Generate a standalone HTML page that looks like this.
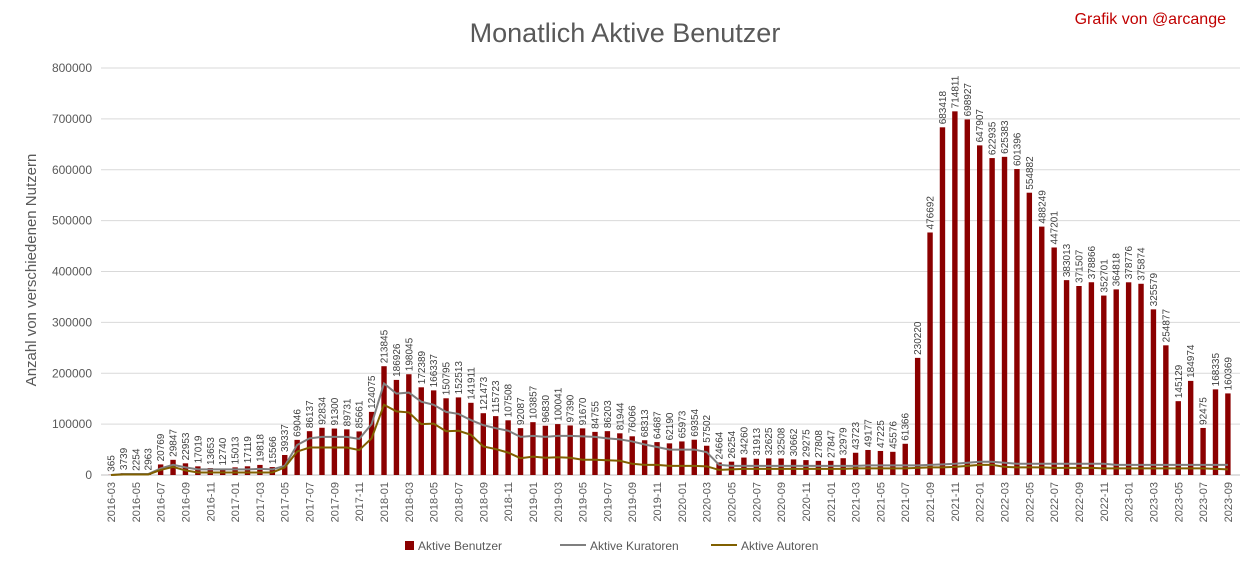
<!DOCTYPE html>
<html><head><meta charset="utf-8"><style>
body{margin:0;background:#fff;}
svg{display:block;font-family:"Liberation Sans",sans-serif;}
</style></head><body>
<svg id="s" width="1249" height="568" xmlns="http://www.w3.org/2000/svg"></svg>
<script>
const v=[365,3739,2254,2963,20769,29847,22953,17019,13653,12740,15013,17119,19818,15566,39337,69046,86137,92834,91300,89731,85661,124075,213845,186926,198045,172389,166337,150795,152513,141911,121473,115723,107508,92087,103857,96830,100041,97390,91670,84755,86203,81944,76066,68313,64687,62190,65973,69354,57502,24664,26254,34260,31913,32625,32508,30662,29275,27808,27847,32979,43723,49177,47225,45576,61366,230220,476692,683418,714811,698927,647907,622935,625383,601396,554882,488249,447201,383013,371507,378866,352701,364818,378776,375874,325579,254877,145129,184974,92475,168335,160369];
const kur=[0,2,2,2,13,20,15,11,11,11,11,11,12,11,18,59,72,75,75,75,71,100,180,160,162,144,138,124,120,108,98,92,87,75,77,75,77,77,76,75,72,70,66,60,55,50,50,50,45,20,18,18,18,18,18,18,18,18,18,18,18,19,19,19,19,19,20,21,22,24,26,26,24,22,22,22,22,22,22,22,22,20,20,20,20,20,20,20,20,20,20,18].slice(0,91);
const aut=[0,1,1,1,10,16,9,5,5,5,5,5,5,5,15,46,54,54,54,54,49,72,138,125,123,100,101,86,87,79,56,51,44,33,36,34,35,34,30,30,29,28,22,20,20,18,18,18,17,10,11,12,12,12,12,12,12,12,12,12,13,13,13,13,13,14,15,15,16,18,20,20,16,15,15,15,14,14,14,14,13,13,13,13,13,13,13,13,13,12,11].slice(0,91);
const y0=475,sc=407/800000,x0=111,dx=12.41;
const X=i=>x0+i*dx, Y=val=>y0-val*sc;
let h='';
h+='<text x="625" y="42" text-anchor="middle" font-size="27" fill="#595959">Monatlich Aktive Benutzer</text>';
h+='<text x="1226" y="24" text-anchor="end" font-size="16" fill="#c00000">Grafik von @arcange</text>';
h+='<text transform="translate(36,270) rotate(-90)" text-anchor="middle" font-size="15" fill="#595959">Anzahl von verschiedenen Nutzern</text>';
for(let k=0;k<=8;k++){const y=Y(k*100000);
h+=`<line x1="101" x2="1240" y1="${y}" y2="${y}" stroke="${k?'#d9d9d9':'#bfbfbf'}" stroke-width="1"/>`;
h+=`<text x="92" y="${y+4}" text-anchor="end" font-size="12" fill="#595959">${k*100000}</text>`;}
const mon=i=>{const m=3+i;const yr=2016+Math.floor((m-1)/12);const mm=((m-1)%12)+1;return yr+'-'+String(mm).padStart(2,'0');};
v.forEach((val,i)=>{const x=X(i);
h+=`<rect x="${x-2.7}" y="${Y(val)}" width="5.4" height="${val*sc}" fill="#8b0000"/>`;
h+=`<text transform="translate(${x+3.5},${Y(val)-3}) rotate(-90)" font-size="10" fill="#404040">${val}</text>`;
if(i%2==0)h+=`<text transform="translate(${x+4},482) rotate(-90)" text-anchor="end" font-size="11" fill="#595959">${mon(i)}</text>`;});
const pl=a=>a.map((k,i)=>X(i)+','+Y(k*1000)).join(' ');
h+=`<polyline points="${pl(kur)}" fill="none" stroke="#7f7f7f" stroke-width="2"/>`;
h+=`<polyline points="${pl(aut)}" fill="none" stroke="#806000" stroke-width="2"/>`;
h+='<rect x="405" y="541" width="9" height="9" fill="#8b0000"/><text x="418" y="550" font-size="12" fill="#595959">Aktive Benutzer</text>';
h+='<line x1="560" x2="586" y1="545" y2="545" stroke="#7f7f7f" stroke-width="2"/><text x="590" y="550" font-size="12" fill="#595959">Aktive Kuratoren</text>';
h+='<line x1="711" x2="737" y1="545" y2="545" stroke="#806000" stroke-width="2"/><text x="741" y="550" font-size="12" fill="#595959">Aktive Autoren</text>';
document.getElementById('s').innerHTML=h;
</script>
</body></html>
